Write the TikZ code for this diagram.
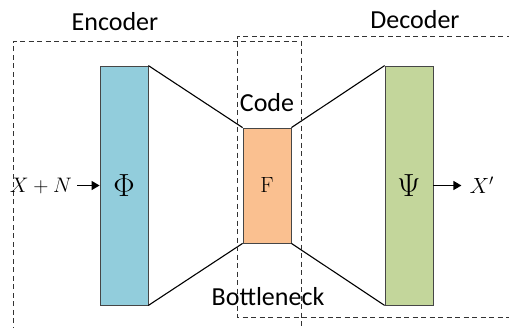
\RequirePackage{fix-cm}
\documentclass[tikz,border=0pt]{standalone}
\usepackage{fontspec}
\setsansfont{Carlito}
\usepackage{tikz}
\usetikzlibrary{arrows.meta, positioning}
\definecolor{myblue}{RGB}{146,205,220}
\definecolor{myorange}{RGB}{250,192,144}
\definecolor{mygreen}{RGB}{195,214,155}
\definecolor{myedge}{RGB}{70,70,70}
\tikzset{
  layer/.style={rectangle, draw=myedge, line width=0.8pt, minimum width=48pt,
    inner sep=0pt, font=\fontsize{22}{26}\selectfont},
  region/.style={dash pattern=on 5pt off 3.5pt, line width=0.7pt, color=black!80},
  tag/.style={font=\sffamily\fontsize{26}{30}\selectfont, inner sep=1pt},
  arrow/.style={-{Triangle[length=8pt,width=9pt]}, line width=1.3pt},
  line/.style={line width=1.1pt}
}
\begin{document}
\begin{tikzpicture}[x=1pt, y=-1pt]
  \useasboundingbox (0,0) rectangle (509,327);
  \clip (0,0) rectangle (509,327);

  % layers
  \node[layer, fill=myblue, minimum height=239pt,
    font=\fontsize{32}{36}\selectfont] (enc) at (124,185.5) {$\Phi$};
  \node[layer, fill=myorange, minimum height=115pt] (code) at (267,185.5) {F};
  \node[layer, fill=mygreen, minimum height=239pt,
    font=\fontsize{32}{36}\selectfont] (dec) at (409,185.5) {$\Psi$};

  % funnel lines
  \draw[line] (enc.north east) -- (code.north west);
  \draw[line] (enc.south east) -- (code.south west);
  \draw[line] (code.north east) -- (dec.north west);
  \draw[line] (code.south east) -- (dec.south west);

  % dashed regions
  \draw[region] (13,340) -- (13,41) -- (301,41) -- (301,340);
  \draw[region] (520,36) -- (237,36) -- (237,317) -- (520,317);

  % labels
  \node[tag] (enctag) at (115,22) {Encoder};
  \node[tag] (dectag) at (415,20) {Decoder};
  \node[tag] (codetag) at (267,103) {Code};
  \node[tag] (bntag) at (268,297) {Bottleneck};

  % input and output
  \node[anchor=east, inner sep=0pt, font=\fontsize{21}{25}\selectfont]
    (input) at (72,185.5) {$X+N$};
  \node[right=36pt of dec.east, anchor=west, inner sep=0pt,
    font=\fontsize{22}{26}\selectfont] (output) {$X'$};
  \draw[arrow] (input.east) ++(5pt,0) coordinate (inarr) (inarr) -- (enc.west);
  \draw[arrow] (dec.east) -- ([xshift=-8pt]output.west);
\end{tikzpicture}
\end{document}
